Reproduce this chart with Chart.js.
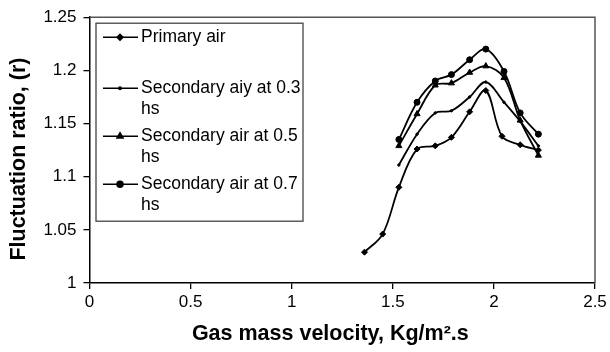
<!DOCTYPE html>
<html>
<head>
<meta charset="utf-8">
<script src="https://cdn.jsdelivr.net/npm/chart.js@4.4.0/dist/chart.umd.min.js"></script>
<style>
  html, body { margin: 0; padding: 0; background: #fff; }
  #wrap { width: 610px; height: 352px; }
</style>
</head>
<body>
<div id="wrap"><canvas id="grafico"></canvas></div>
<script>
// datos
const velPrimario = [1.36, 1.45, 1.53, 1.62, 1.71, 1.79, 1.88, 1.96, 2.04, 2.13, 2.22];
const velSecundario = [1.53, 1.62, 1.71, 1.79, 1.88, 1.96, 2.05, 2.13, 2.22];
const primario = [1.029, 1.046, 1.09, 1.126, 1.129, 1.137, 1.161, 1.181, 1.138, 1.13, 1.125];
const sec03 = [1.111, 1.14, 1.16, 1.162, 1.175, 1.189, 1.17, 1.152, 1.129];
const sec05 = [1.129, 1.159, 1.186, 1.188, 1.198, 1.204, 1.193, 1.153, 1.12];
const sec07 = [1.135, 1.17, 1.19, 1.196, 1.21, 1.22, 1.199, 1.16, 1.14];
const xTicks = [0, 0.5, 1, 1.5, 2, 2.5];
const yTicks = [1, 1.05, 1.1, 1.15, 1.2, 1.25];
const etiquetas = [
  ["Primary air"],
  ["Secondary aiy at 0.3", "hs"],
  ["Secondary air at 0.5", "hs"],
  ["Secondary air at 0.7", "hs"]
];

const fuente = '"Liberation Sans", Arial, sans-serif';

function puntos(xs, ys) {
  return xs.map((x, i) => ({ x: x, y: ys[i] }));
}

function serie(label, xs, ys, estilo, radio) {
  return {
    label: label,
    data: puntos(xs, ys),
    borderColor: "#000",
    backgroundColor: "#000",
    borderWidth: 1.8,
    pointStyle: estilo,
    pointRadius: radio,
    pointBorderWidth: 1,
    tension: 0.35,
    fill: false
  };
}

// marco superior y derecho del area de trazado
const marco = {
  id: "marco",
  afterDraw(chart) {
    const a = chart.chartArea;
    const ctx = chart.ctx;
    ctx.save();
    ctx.strokeStyle = "#555";
    ctx.lineWidth = 1.5;
    ctx.beginPath();
    ctx.moveTo(a.left, a.top);
    ctx.lineTo(a.right, a.top);
    ctx.lineTo(a.right, a.bottom);
    ctx.stroke();
    ctx.restore();
  }
};

// leyenda dentro del grafico, con texto en dos lineas
const leyenda = {
  id: "leyenda",
  afterDraw(chart) {
    const ctx = chart.ctx;
    const a = chart.chartArea;
    const x0 = a.left + 6.5, y0 = a.top + 6;
    ctx.save();
    ctx.strokeStyle = "#444";
    ctx.lineWidth = 1.3;
    ctx.strokeRect(x0, y0, 207, 198);
    ctx.font = "17.5px " + fuente;
    ctx.textBaseline = "middle";
    const filas = [14, 65, 113, 161];
    chart.data.datasets.forEach((ds, i) => {
      const y = y0 + filas[i];
      ctx.strokeStyle = "#000";
      ctx.fillStyle = "#000";
      ctx.lineWidth = 1.5;
      ctx.beginPath();
      ctx.moveTo(x0 + 7, y);
      ctx.lineTo(x0 + 42, y);
      ctx.stroke();
      Chart.helpers.drawPoint(ctx, { pointStyle: ds.pointStyle, radius: ds.pointRadius, borderWidth: 1 }, x0 + 24, y);
      etiquetas[i].forEach((t, j) => ctx.fillText(t, x0 + 45, y + j * 21));
    });
    ctx.restore();
  }
};

const ctx = document.getElementById("grafico");

const chart = new Chart(ctx, {
  type: "line",
  data: {
    datasets: [
      serie(etiquetas[0].join(" "), velPrimario, primario, "rectRot", 3),
      serie(etiquetas[1].join(" "), velSecundario, sec03, "circle", 1.2),
      serie(etiquetas[2].join(" "), velSecundario, sec05, "triangle", 3.5),
      serie(etiquetas[3].join(" "), velSecundario, sec07, "circle", 3)
    ]
  },
  options: {
    responsive: true,
    maintainAspectRatio: false,
    animation: false,
    devicePixelRatio: 1,
    layout: { autoPadding: false, padding: { top: 15, right: 15, left: 0, bottom: 0 } },
    plugins: { legend: { display: false }, tooltip: { enabled: false } },
    scales: {
      x: {
        type: "linear",
        min: 0,
        max: 2.5,
        afterBuildTicks: (s) => { s.ticks = xTicks.map((v) => ({ value: v })); },
        afterFit: (s) => { s.height = 69; },
        ticks: {
          color: "#000",
          font: { family: fuente, size: 17 },
          padding: 3,
          maxRotation: 0,
          callback: (v) => String(+v.toFixed(2))
        },
        grid: { drawOnChartArea: false, drawTicks: true, tickLength: 6, color: "#000", lineWidth: 1.3 },
        border: { display: true, color: "#000", width: 1.5 },
        title: {
          display: true,
          text: "Gas mass velocity, Kg/m\u00B2.s\u00A0\u00A0\u00A0\u00A0",
          color: "#000",
          font: { family: fuente, size: 21.5, weight: "bold" },
          padding: { top: 0, bottom: 5 }
        }
      },
      y: {
        type: "linear",
        min: 1,
        max: 1.25,
        afterBuildTicks: (s) => { s.ticks = yTicks.map((v) => ({ value: v })); },
        afterFit: (s) => { s.width = 89.5; },
        ticks: {
          color: "#000",
          font: { family: fuente, size: 17 },
          padding: 7,
          callback: (v) => String(+v.toFixed(2))
        },
        grid: { drawOnChartArea: false, drawTicks: true, tickLength: 6, color: "#000", lineWidth: 1.3 },
        border: { display: true, color: "#000", width: 1.5 },
        title: {
          display: true,
          text: "Fluctuation ratio, (r)\u00A0\u00A0\u00A0",
          color: "#000",
          font: { family: fuente, size: 21.5, weight: "bold" },
          padding: { top: 6, bottom: 0 }
        }
      }
    }
  },
  plugins: [marco, leyenda]
});
</script>
</body>
</html>
